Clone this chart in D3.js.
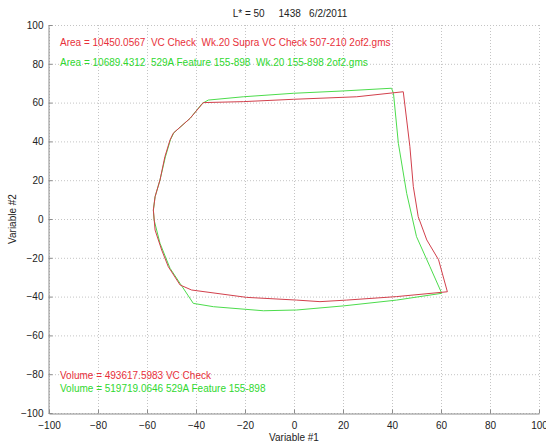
<!DOCTYPE html>
<html>
<head>
<meta charset="utf-8">
<script src="https://cdn.jsdelivr.net/npm/d3@7"></script>
<style>
  body { margin: 0; background: #fff; }
  svg { font-family: "Liberation Sans", Arial, sans-serif; }
  svg text { white-space: pre; }
</style>
</head>
<body>
<svg id="chart" width="546" height="444"></svg>
<script>
// outline of each sample (closed loops)
const redX = [-37, -20.7, -0.3, 25.6, 44.6, 46, 47.3, 48.7, 50.7, 54.2, 59, 62.6, 41.9, 21.5, 10.6, 1.1, -19.3, -41.8, -46.5, -51.3, -54, -56.7, -57.4, -56.7, -54.7, -52.7, -50.6, -49.3, -42.4, -37];
const redY = [60, 60.5, 61.7, 63, 65.6, 51, 37.3, 16.7, 1.2, -10.8, -21, -37.5, -40, -41.8, -42.6, -41.8, -40.4, -36.6, -34, -24.6, -16, -5.7, 4.6, 11.5, 20.1, 32.1, 40.7, 44.2, 51.9, 60];
const greenX = [-37.5, -35, -20.7, -0.3, 20, 39.8, 40.6, 42.6, 46, 50, 55.5, 60.3, 41.9, 20.1, 1.1, -12.5, -32.9, -41.1, -46.5, -50.6, -54.7, -57.1, -57.4, -56.7, -54.7, -52.5, -50.4, -49, -42.4, -37.5];
const greenY = [59.5, 61.3, 63, 64.8, 66, 67.4, 64.8, 39, 13.2, -9.1, -24.6, -38.3, -41.8, -44.8, -46.9, -47.3, -45.2, -43.5, -33.2, -25.4, -12.5, -0.5, 4.6, 11.5, 20.1, 32, 41, 44.5, 51.9, 59.5];

const ticks = [-100, -80, -60, -40, -20, 0, 20, 40, 60, 80, 100];
const titleText = "L* = 50     1438   6/2/2011";
const areaLabels = [
  "Area = 10450.0567  VC Check  Wk.20 Supra VC Check 507-210 2of2.gms",
  "Area = 10689.4312  529A Feature 155-898  Wk.20 155-898 2of2.gms"
];
const volumeLabels = [
  "Volume = 493617.5983 VC Check",
  "Volume = 519719.0646 529A Feature 155-898"
];

const redLine = "#d2404c", greenLine = "#4cdc4c";
const redText = "#e8303a", greenText = "#30d830";

const svg = d3.select("#chart");
const x = d3.scaleLinear().domain([-100, 100]).range([49, 539]);
const y = d3.scaleLinear().domain([-100, 100]).range([413, 25]);

// dotted grid
const grid = svg.append("g").attr("stroke", "#c4c4c4").attr("stroke-dasharray", "1,2").attr("stroke-width", 1);
ticks.forEach(t => {
  grid.append("line").attr("x1", x(t) + 0.5).attr("x2", x(t) + 0.5).attr("y1", y(100)).attr("y2", y(-100));
  grid.append("line").attr("y1", y(t) + 0.5).attr("y2", y(t) + 0.5).attr("x1", x(-100)).attr("x2", x(100));
});

// axes (matlab style, ticks inside)
const xAxis = svg.append("g")
  .attr("transform", `translate(0,${y(-100) + 0.5})`)
  .call(d3.axisBottom(x).tickValues(ticks).tickSizeInner(-4).tickSizeOuter(0).tickPadding(6));
const yAxis = svg.append("g")
  .attr("transform", `translate(${x(-100) - 0.5},0)`)
  .call(d3.axisLeft(y).tickValues(ticks).tickSizeInner(-4).tickSizeOuter(0).tickPadding(5));
[xAxis, yAxis].forEach(a => {
  a.select(".domain").attr("stroke", "#8c8c8c");
  a.selectAll(".tick line").attr("stroke", "#8c8c8c");
  a.selectAll("text").attr("font-size", "10px").attr("fill", "#222")
    .attr("font-family", "Liberation Sans, Arial, sans-serif");
});
xAxis.selectAll("text").attr("dy", "0.9em");

// outlines
const line = d3.line().x(d => x(d[0])).y(d => y(d[1]));
svg.append("path").datum(d3.zip(greenX, greenY))
  .attr("d", line).attr("fill", "none").attr("stroke", greenLine).attr("stroke-width", 1);
svg.append("path").datum(d3.zip(redX, redY))
  .attr("d", line).attr("fill", "none").attr("stroke", redLine).attr("stroke-width", 1);

// texts
svg.append("text").attr("x", 290).attr("y", 17).attr("text-anchor", "middle")
  .attr("font-size", "10px").attr("fill", "#222").text(titleText);

svg.append("text").attr("x", 60).attr("y", 46).attr("font-size", "10px").attr("fill", redText).text(areaLabels[0]);
svg.append("text").attr("x", 60).attr("y", 66).attr("font-size", "10px").attr("fill", greenText).text(areaLabels[1]);
svg.append("text").attr("x", 60).attr("y", 379).attr("font-size", "10px").attr("fill", redText).text(volumeLabels[0]);
svg.append("text").attr("x", 60).attr("y", 392).attr("font-size", "10px").attr("fill", greenText).text(volumeLabels[1]);

svg.append("text").attr("x", x(0)).attr("y", 441).attr("text-anchor", "middle")
  .attr("font-size", "10px").attr("fill", "#222").text("Variable #1");
svg.append("text").attr("transform", `translate(16,${y(0)}) rotate(-90)`).attr("text-anchor", "middle")
  .attr("font-size", "10px").attr("fill", "#222").text("Variable #2");
</script>
</body>
</html>
